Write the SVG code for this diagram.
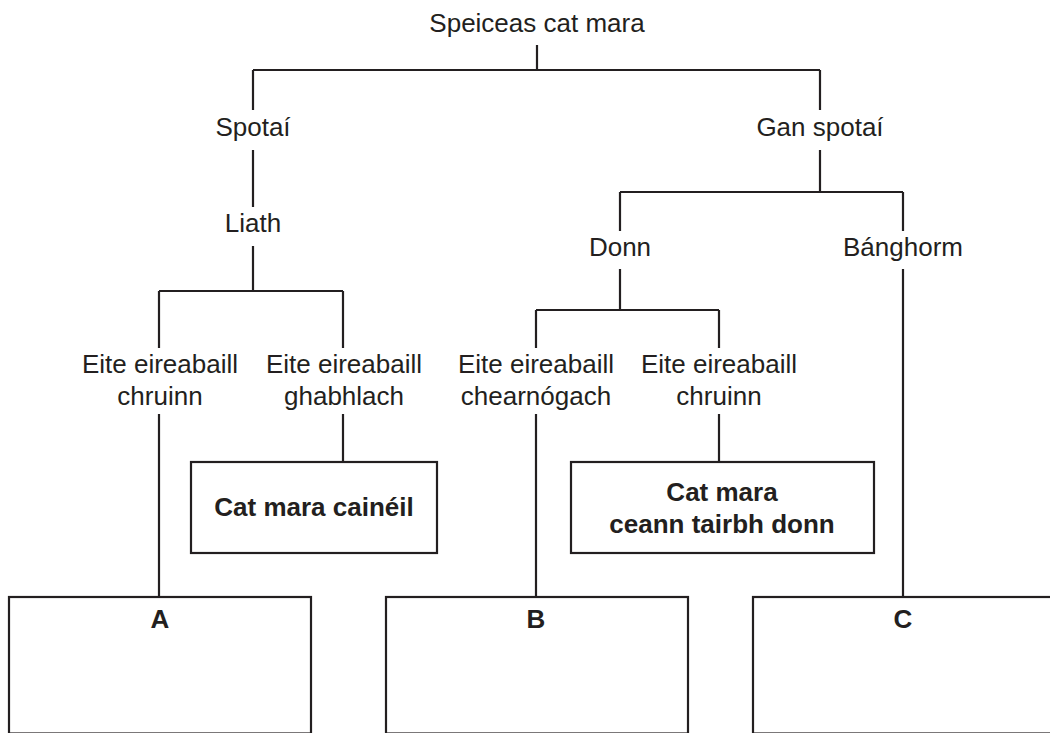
<svg xmlns="http://www.w3.org/2000/svg" width="1050" height="733" viewBox="0 0 1050 733">
<style>
  text { font-family: "Liberation Sans", Arial, sans-serif; font-size: 26px; fill: #231f20; text-anchor: middle; }
  .b { font-weight: bold; }
  .ln { fill: none; stroke: #231f20; stroke-width: 2.2; }
  .box { fill: #ffffff; stroke: #231f20; stroke-width: 2.2; }
</style>
<rect width="1050" height="733" fill="#ffffff"/>
<g id="connectors" class="ln">
  <path d="M537,45 V70 M253,70 H820 M253,70 V110 M820,70 V110"/>
  <path d="M253,150 V207 M253,246 V291 M159,291 H343 M159,291 V348 M343,291 V348"/>
  <path d="M159,414 V597 M343,414 V462"/>
  <path d="M820,150 V192 M620,192 H903 M620,192 V231 M903,192 V231"/>
  <path d="M620,269 V310 M536,310 H719 M536,310 V348 M719,310 V348"/>
  <path d="M536,414 V597 M719,414 V462 M903,269 V597"/>
</g>
<g id="root"><text x="537" y="32">Speiceas cat mara</text></g>
<g id="spotai"><text x="253" y="136">Spotaí</text></g>
<g id="liath"><text x="253" y="232">Liath</text></g>
<g id="gan-spotai"><text x="820" y="136">Gan spotaí</text></g>
<g id="donn"><text x="620" y="256">Donn</text></g>
<g id="banghorm"><text x="903" y="256">Bánghorm</text></g>
<g id="l-chruinn"><text x="160" y="373">Eite eireabaill</text><text x="160" y="405">chruinn</text></g>
<g id="l-ghabhlach"><text x="344" y="373">Eite eireabaill</text><text x="344" y="405">ghabhlach</text></g>
<g id="r-chearnogach"><text x="536" y="373">Eite eireabaill</text><text x="536" y="405">chearnógach</text></g>
<g id="r-chruinn"><text x="719" y="373">Eite eireabaill</text><text x="719" y="405">chruinn</text></g>
<g id="caineil">
  <rect class="box" x="191" y="462" width="246" height="91"/>
  <text class="b" x="314" y="516">Cat mara cainéil</text>
</g>
<g id="ceann-tairbh">
  <rect class="box" x="571" y="462" width="303" height="91"/>
  <text class="b" x="722" y="501">Cat mara</text>
  <text class="b" x="722" y="533">ceann tairbh donn</text>
</g>
<g id="box-a">
  <rect class="box" x="9" y="597" width="302" height="136.5"/>
  <text class="b" x="160" y="628">A</text>
</g>
<g id="box-b">
  <rect class="box" x="386" y="597" width="302" height="136.5"/>
  <text class="b" x="536" y="628">B</text>
</g>
<g id="box-c">
  <rect class="box" x="753" y="597" width="320" height="136.5"/>
  <text class="b" x="903" y="628">C</text>
</g>
</svg>
